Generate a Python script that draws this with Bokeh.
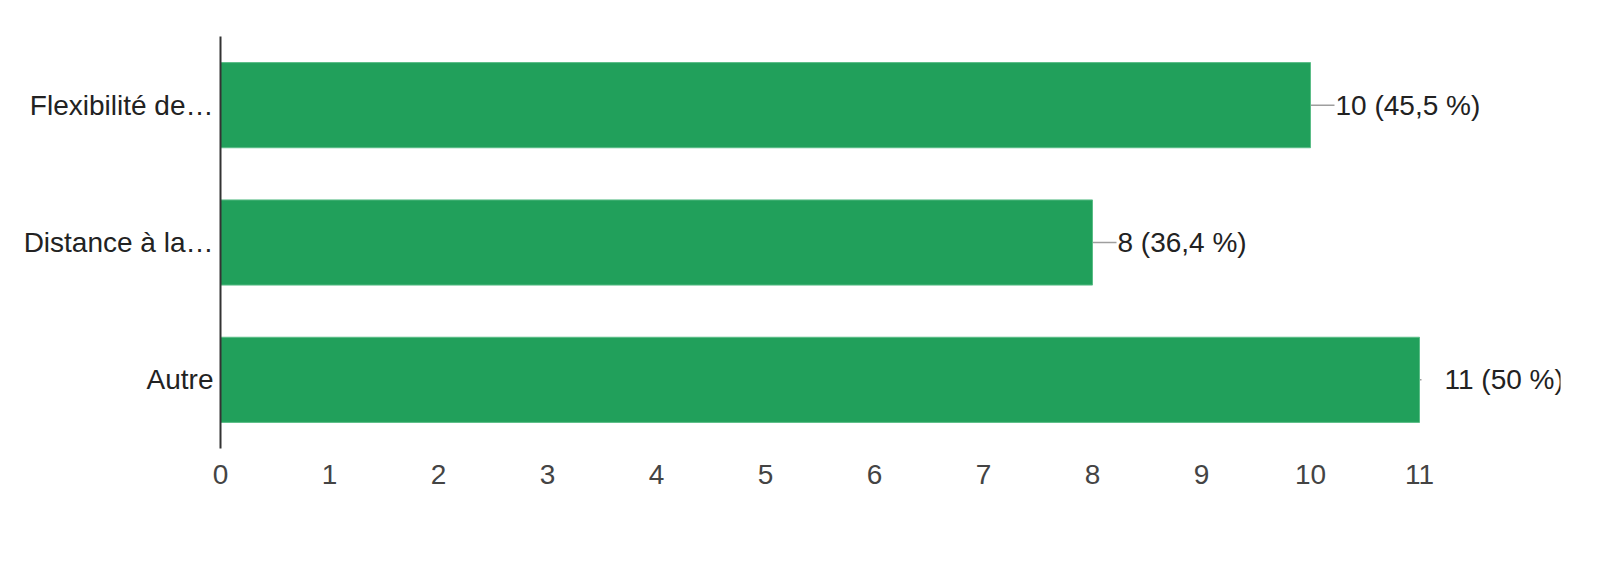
from bokeh.plotting import figure
from bokeh.models import FixedTicker, ColumnDataSource
from bokeh.embed import file_html
from bokeh.resources import INLINE

# ---- data ----
categories = ["Flexibilité de…", "Distance à la…", "Autre"]
counts = [10, 8, 11]
percent_labels = ["45,5 %", "36,4 %", "50 %"]
x_ticks = list(range(0, 12))

# ---- style ----
leader_px = [24, 24, 2]
FONT = "Liberation Sans"
BAR = "#21a05b"

labels = [f"{c} ({pl})" for c, pl in zip(counts, percent_labels)]
src = ColumnDataSource(dict(cat=categories, n=counts, label=labels, lead=leader_px))

W, H = 1610, 564
left, right, top, bottom = 220, 50, 36, 116
px_per_unit = 109.0
x_end = (W - left - right) / px_per_unit

p = figure(width=W, height=H, y_range=list(reversed(categories)), x_range=(0, x_end),
           output_backend="svg", toolbar_location=None,
           min_border_left=left, min_border_right=right,
           min_border_top=top, min_border_bottom=bottom)
p.outline_line_color = None
p.xgrid.visible = False
p.ygrid.visible = False
p.background_fill_color = "white"
p.border_fill_color = "white"

# leader lines
p.ray(x="n", y="cat", length="lead", angle=0, length_units="screen",
      line_color="#9e9e9e", line_width=1.5, source=src)

p.hbar(y="cat", right="n", left=0, height=0.62, fill_color=BAR,
       line_color="#5bbd87", line_width=1, source=src)

p.text(x="n", y="cat", text="label", x_offset=25, text_baseline="middle",
       text_align="left", text_font_size="28px", text_color="#222222",
       text_font={"value": FONT}, source=src)

xa = p.xaxis[0]
xa.ticker = FixedTicker(ticks=x_ticks)
xa.axis_line_color = None
xa.major_tick_line_color = None
xa.minor_tick_line_color = None
xa.major_label_text_font = FONT
xa.major_label_text_font_size = "28px"
xa.major_label_text_color = "#444444"
xa.major_label_standoff = 10

ya = p.yaxis[0]
ya.axis_line_color = "#333333"
ya.axis_line_width = 2
ya.major_tick_line_color = None
ya.minor_tick_line_color = None
ya.major_tick_out = 0
ya.major_tick_in = 0
ya.major_label_text_font = FONT
ya.major_label_text_font_size = "28px"
ya.major_label_text_color = "#222222"
ya.major_label_standoff = 7

open("out.html", "w").write(file_html(p, INLINE))
